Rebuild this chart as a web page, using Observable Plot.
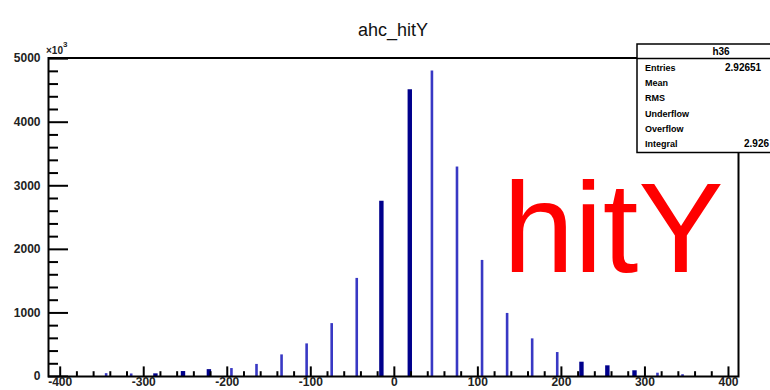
<!DOCTYPE html>
<html><head><meta charset="utf-8">
<script src="https://cdn.jsdelivr.net/npm/d3@7"></script>
<script src="https://cdn.jsdelivr.net/npm/@observablehq/plot@0.6"></script>
<style>
html,body{margin:0;padding:0;background:#fff;}
#chart{position:relative;width:770px;height:390px;overflow:hidden;}
</style></head><body><div id="chart"></div>
<script>
// ---- data ----
const title = "ahc_hitY";
const bigLabel = "hitY";
const statsName = "h36";
const statsLabels = ["Entries", "Mean", "RMS", "Underflow", "Overflow", "Integral"];
// only the visible part of the (clipped) values
const statsValues = ["2.92651", "", "", "", "", "2.926"];
const yExponent = "3";

// thin (single-bin) spikes
const lightX = [-345, -315, -195, -165, -135, -105, -75, -45, 45, 75, 105, 135, 165, 195, 315, 345];
const lightV = [45, 40, 125, 190, 340, 513, 832, 1543, 4805, 3295, 1826, 992, 592, 377, 52, 28];
// wider dark (double-bin) spikes
const darkX = [-286, -253, -222, -15.5, 18.5, 224, 255, 287.5];
const darkV = [42, 78, 108, 2755, 4510, 225, 168, 90];

const xMajor = [-400, -300, -200, -100, 0, 100, 200, 300, 400];
const yMajor = [0, 1000, 2000, 3000, 4000, 5000];
const yLabels = ["0", "1000", "2000", "3000", "4000", "5000"];

const xMinor = d3.range(-400, 401, 20).filter(v => v % 100 !== 0);
const yMinor = d3.range(0, 5001, 200).filter(v => v % 1000 !== 0);

const light = lightX.map((x, i) => ({x, v: lightV[i]}));
const dark = darkX.map((x, i) => ({x, v: darkV[i]}));

// ---- layout ----
const W = 770, H = 390, mL = 48, mR = 32, mT = 57.5, mB = 14;
const fw = W - mL - mR, fh = H - mT - mB;
const font = "'Liberation Sans', Arial, Helvetica, sans-serif";

const plot = Plot.plot({
  width: W, height: H,
  marginLeft: mL, marginRight: mR, marginTop: mT, marginBottom: mB,
  x: {domain: [-414, 412], axis: null},
  y: {domain: [0, 5010], axis: null},
  style: {fontFamily: font, background: "#fff", color: "#000"},
  marks: [
    Plot.ruleX(light, {x: "x", y1: 0, y2: "v", stroke: "#3838c4", strokeWidth: 2.6}),
    Plot.ruleX(dark, {x: "x", y1: 0, y2: "v", stroke: "#00008c", strokeWidth: 4.4}),
    Plot.tickX(xMajor, {x: d => d, insetTop: fh - 9.6, stroke: "#000", strokeWidth: 2}),
    Plot.tickX(xMinor, {x: d => d, insetTop: fh - 4.8, stroke: "#000", strokeWidth: 2}),
    Plot.tickY(yMajor, {y: d => d, insetRight: fw - 20, stroke: "#000", strokeWidth: 2}),
    Plot.tickY(yMinor, {y: d => d, insetRight: fw - 10, stroke: "#000", strokeWidth: 2}),
    Plot.frame({stroke: "#000", strokeWidth: 2}),
    Plot.text(xMajor, {x: d => d, frameAnchor: "bottom", dy: 9, text: d => String(d),
      fontSize: 12, fontWeight: "bold", fill: "#222"}),
    Plot.text(yMajor, {y: d => d, frameAnchor: "left", dx: -8, textAnchor: "end",
      text: (d, i) => yLabels[i], fontSize: 12, fontWeight: "bold", fill: "#222"})
  ]
});

document.getElementById("chart").appendChild(plot);

// ---- annotations (title, exponent, stats box, big label) ----
const svg = d3.select(plot);
svg.append("text").attr("x", 393).attr("y", 36).attr("text-anchor", "middle")
  .attr("font-family", font).attr("font-size", 18).attr("fill", "#111").text(title);

const ex = svg.append("text").attr("x", 46).attr("y", 54).attr("text-anchor", "start")
  .attr("font-family", font).attr("font-size", 10).attr("font-weight", "bold").attr("fill", "#222");
ex.append("tspan").text("\u00d710");
ex.append("tspan").attr("dy", -7).attr("font-size", 8).text(yExponent);

const g = svg.append("g");
g.append("rect").attr("x", 637).attr("y", 44).attr("width", 175).attr("height", 108.5)
  .attr("fill", "#fff").attr("stroke", "#000").attr("stroke-width", 1.5);
g.append("line").attr("x1", 637).attr("x2", 812).attr("y1", 58.5).attr("y2", 58.5)
  .attr("stroke", "#000").attr("stroke-width", 1.5);
g.append("text").attr("x", 721).attr("y", 55).attr("text-anchor", "middle")
  .attr("font-family", font).attr("font-size", 10).attr("font-weight", "bold").text(statsName);
const valueX = [725, 790, 790, 790, 790, 744];
statsLabels.forEach((lab, i) => {
  const y = 71 + i * 15.2;
  g.append("text").attr("x", 645).attr("y", y).attr("text-anchor", "start").attr("font-family", font)
    .attr("font-size", 9).attr("font-weight", "bold").text(lab);
  if (statsValues[i]) {
    g.append("text").attr("x", valueX[i]).attr("y", y).attr("text-anchor", "start").attr("font-family", font)
      .attr("font-size", 10).attr("font-weight", "bold").text(statsValues[i]);
  }
});

svg.append("text").attr("x", 503).attr("y", 272).attr("text-anchor", "start").attr("font-family", font)
  .attr("font-size", 128).attr("fill", "#ff0000").text(bigLabel);
</script></body></html>
